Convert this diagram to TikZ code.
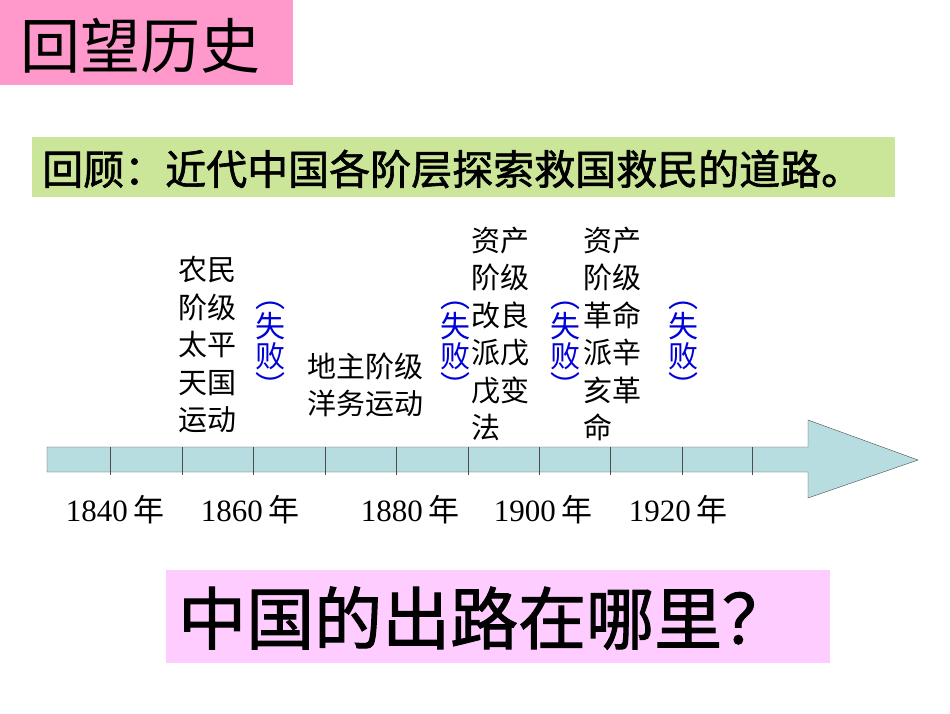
\documentclass[tikz,border=0pt]{standalone}
\usepackage{fontspec}
\setmainfont{Liberation Serif}
\newfontfamily\cjk{Noto Sans CJK SC}
\newfontfamily\cjkb[FakeBold=1.5]{Noto Sans CJK SC}
\begin{document}
\begin{tikzpicture}[x=1pt,y=-1pt,
  lab/.style={font=\cjk\fontsize{29}{37.5}\selectfont,align=left,inner sep=0pt},
  fail/.style={font=\cjk\fontsize{30}{30}\selectfont,text=blue!85!black,align=center,inner sep=0pt},
  yr/.style={font=\fontsize{31}{33}\selectfont,inner sep=0pt}]
\useasboundingbox (0,0) rectangle (950,713);
\fill[white] (0,0) rectangle (950,713);
\node[fill={rgb,255:red,255;green,153;blue,204},minimum width=293,minimum height=85,inner sep=0pt,anchor=north west] (t) at (0,0) {};
\node[font=\cjk\fontsize{60}{62}\selectfont,anchor=west,inner sep=0pt] (tt) at (20,46) {回望历史};
\node[fill={rgb,255:red,204;green,230;blue,153},minimum width=863,minimum height=60,inner sep=0pt,anchor=north west] (g) at (32,137) {};
\node[font=\cjkb\fontsize{41}{42}\selectfont,anchor=west,inner sep=0pt] (gt) at (42,169) {回顾：近代中国各阶层探索救国救民的道路。};
\node[fill={rgb,255:red,255;green,204;blue,255},minimum width=664,minimum height=93,inner sep=0pt,anchor=north west] (b) at (166,570) {};
\node[font=\cjkb\fontsize{68}{70}\selectfont,anchor=west,inner sep=0pt] (bt) at (178,618) {中国的出路在哪里？};
% arrow
\draw[fill={rgb,255:red,183;green,221;blue,224},draw=black!70] (47,447) -- (808,447) -- (808,420) -- (918,460) -- (808,498) -- (808,472) -- (47,472) -- cycle;
\foreach \x in {110,182,253,325,396,468,539,610,682,752}
  \draw[black!70] (\x,447) -- (\x,475);
\node[lab] (c1) at (207,345) {农民\\阶级\\太平\\天国\\运动};
\node[lab] (c2) at (365,385) {地主阶级\\洋务运动};
\node[lab] (c3) at (500,334) {资产\\阶级\\改良\\派戊\\戊变\\法};
\node[lab] (c4) at (612,334) {资产\\阶级\\革命\\派辛\\亥革\\命};
\foreach \n/\x in {f1/270,f2/455,f3/565,f4/683}
  \node[fail] (\n) at (\x,350) {︵\\失\\败\\︶};
\node[yr] (y1) at (115,510) {1840\,{\cjk 年}};
\node[yr] (y2) at (250,510) {1860\,{\cjk 年}};
\node[yr] (y3) at (410,510) {1880\,{\cjk 年}};
\node[yr] (y4) at (543,510) {1900\,{\cjk 年}};
\node[yr] (y5) at (678,510) {1920\,{\cjk 年}};
\end{tikzpicture}
\end{document}
